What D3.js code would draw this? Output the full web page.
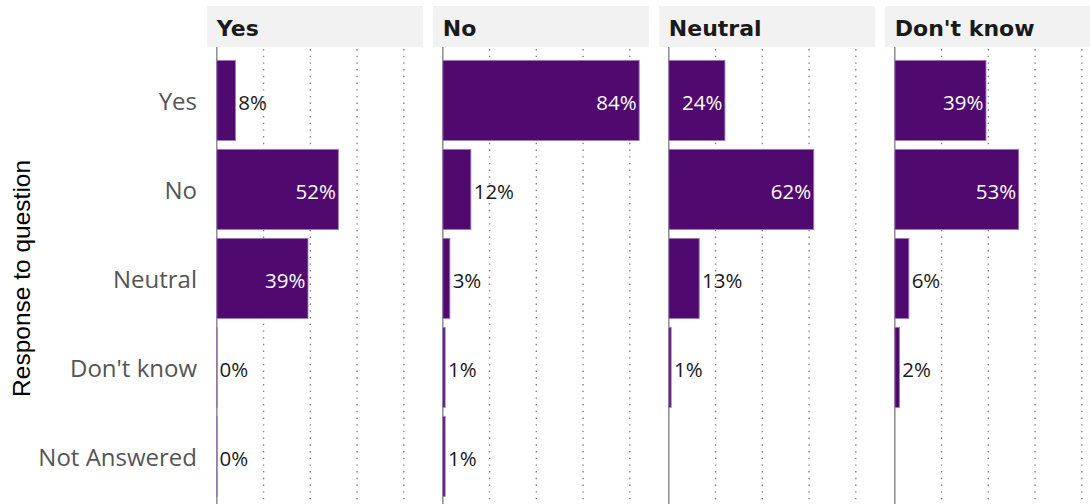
<!DOCTYPE html>
<html><head><meta charset="utf-8">
<script src="https://cdn.jsdelivr.net/npm/d3@7"></script>
<style>body{margin:0;background:#fff}svg{display:block}</style>
</head><body>
<svg id="chart" width="1090" height="504"></svg>
<script>
const facets = ["Yes", "No", "Neutral", "Don't know"];
const responses = ["Yes", "No", "Neutral", "Don't know", "Not Answered"];
// values per facet, in order of responses (null = no bar)
const yesValues     = [0.08, 0.52, 0.39, 0.00, 0.00];
const noValues      = [0.84, 0.12, 0.03, 0.01, 0.01];
const neutralValues = [0.24, 0.62, 0.13, 0.01, null];
const dontKnowValues= [0.39, 0.53, 0.06, 0.02, null];
const gridTicks = [0.2, 0.4, 0.6, 0.8];
const axisTitle = "Response to question";

const seriesByFacet = [yesValues, noValues, neutralValues, dontKnowValues];
const data = [];
facets.forEach((f, i) => responses.forEach((r, j) => {
  const v = seriesByFacet[i][j];
  if (v !== null) data.push({facet: f, response: r, value: v});
}));

const svg = d3.select("#chart");
const W = 1090, H = 504;
const stripTop = 6, stripH = 41, panelTop = 47;
const panelW = 216;

const fx = d3.scaleBand().domain(facets).range([207, 207 + 4*panelW + 3*10]).paddingInner(10/226).paddingOuter(0);
const maxV = 0.84, expand = maxV * 0.05;
const x = d3.scaleLinear().domain([-expand, maxV + expand]).range([0, panelW]);
const step = 89;
const y = d3.scaleBand().domain(responses).range([panelTop, panelTop + 5.2*step]).paddingInner(0.1).paddingOuter(0.15);

const fmt = d3.format(".0%");

facets.forEach(f => {
  const g = svg.append("g").attr("transform", `translate(${fx(f)},0)`);
  // strip
  g.append("rect").attr("x", 0).attr("y", stripTop).attr("width", fx.bandwidth()).attr("height", stripH).attr("fill", "#f2f2f2");
  g.append("text").attr("x", x(0)).attr("y", 36)
    .attr("font-family", "DejaVu Sans").attr("font-weight", "bold").attr("font-size", 22)
    .attr("fill", "#1a1a1a").text(f);
  // grid
  g.selectAll("line.grid").data(gridTicks).join("line").attr("class", "grid")
    .attr("x1", d => x(d)).attr("x2", d => x(d)).attr("y1", panelTop + 2).attr("y2", H)
    .attr("stroke", "#808080").attr("stroke-width", 1.4).attr("stroke-dasharray", "1.4,5.3");
  // zero line
  g.append("line").attr("x1", x(0)).attr("x2", x(0)).attr("y1", panelTop).attr("y2", H)
    .attr("stroke", "#8c8c8c").attr("stroke-width", 1.5);
  const fd = data.filter(d => d.facet === f);
  g.selectAll("rect.bar").data(fd).join("rect").attr("class", "bar")
    .attr("x", x(0)).attr("y", d => y(d.response))
    .attr("width", d => Math.max(x(d.value) - x(0), 0.3)).attr("height", y.bandwidth())
    .attr("fill", "#500a6f").attr("stroke", "#9c7fb8").attr("stroke-width", 0.9);
  g.selectAll("text.val").data(fd).join("text").attr("class", "val")
    .attr("x", d => d.value >= 0.2 ? x(d.value) - 2.5 : x(d.value) + 2.8)
    .attr("y", d => y(d.response) + y.bandwidth()/2 + 10)
    .attr("text-anchor", d => d.value >= 0.2 ? "end" : "start")
    .attr("font-family", "Open Sans").attr("font-size", 20.5)
    .attr("fill", d => d.value >= 0.2 ? "#ffffff" : "#1a1a1a")
    .text(d => fmt(d.value));
});

// y axis labels
svg.append("g").selectAll("text").data(responses).join("text")
  .attr("x", 197).attr("y", d => y(d) + y.bandwidth()/2 + 9.5)
  .attr("text-anchor", "end").attr("font-family", "Open Sans").attr("font-size", 24)
  .attr("fill", "#555555").text(d => d);

svg.append("text").attr("transform", `translate(29.5,${y("Neutral") + y.bandwidth()/2}) rotate(-90)`)
  .attr("text-anchor", "middle").attr("font-family", "Liberation Sans").attr("font-size", 24.5)
  .attr("fill", "#000").text(axisTitle);
</script>
</body></html>
